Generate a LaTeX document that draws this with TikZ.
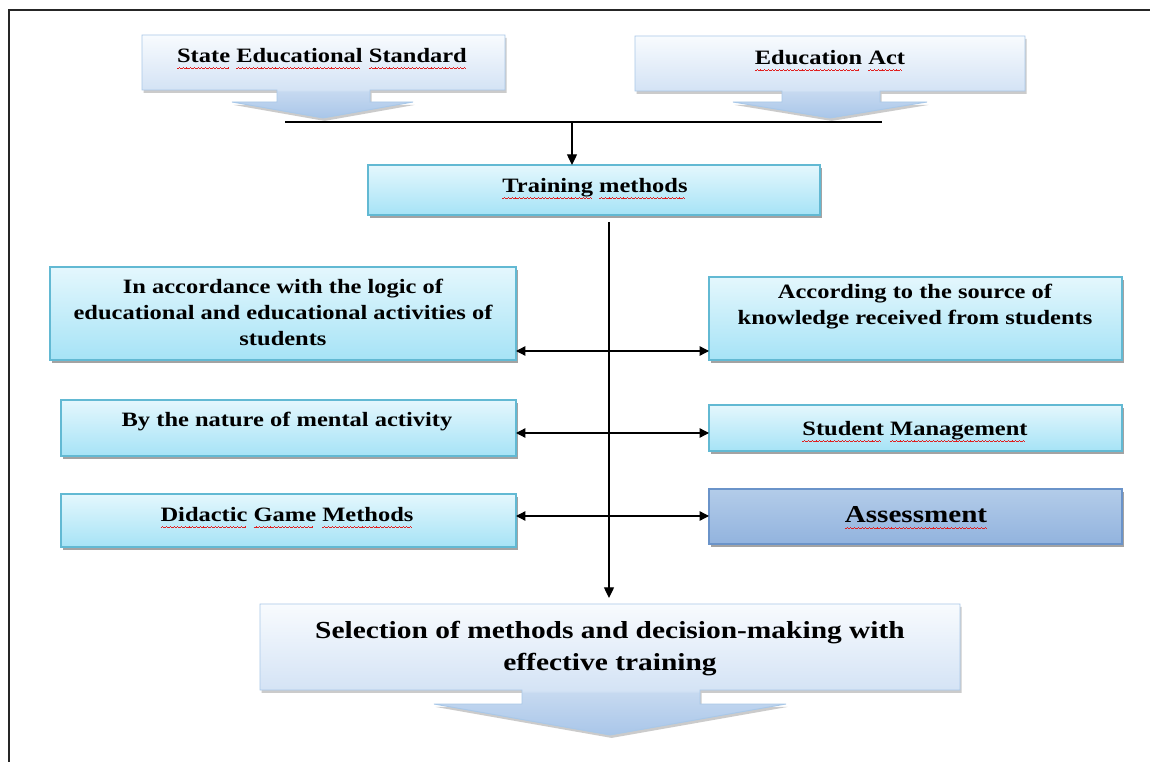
\documentclass[tikz,border=0pt]{standalone}
\usepackage{fontspec}
\setmainfont{Liberation Serif}[FakeStretch=1.2]
\usetikzlibrary{shadows,fit,arrows.meta,calc}
\definecolor{BoxTop}{HTML}{E4F7FD}
\definecolor{BoxBot}{HTML}{A6E3F6}
\definecolor{BoxLine}{HTML}{62B9D3}
\definecolor{AssTop}{HTML}{B3CCE9}
\definecolor{AssBot}{HTML}{92B3DE}
\definecolor{AssLine}{HTML}{6A93C9}
\definecolor{ShadowGray}{HTML}{8C8C8C}
\definecolor{ArrLine}{HTML}{A9C8E8}
\definecolor{ArrTip}{HTML}{A9C6E9}
\definecolor{ArrMid}{HTML}{C6D9F0}
\definecolor{BoxLow}{HTML}{D4E3F5}
\definecolor{BoxHigh}{HTML}{F8FBFE}
\definecolor{WaveRed}{HTML}{E02020}
\pgfdeclareverticalshading{blockarrow}{100bp}{color(0bp)=(ArrTip); color(25bp)=(ArrTip); color(41bp)=(ArrMid); color(42bp)=(BoxLow); color(75bp)=(BoxHigh); color(100bp)=(BoxHigh)}
\newsavebox\sqbox
\newcommand\sq[1]{\sbox\sqbox{#1}\rlap{\color{WaveRed}\leaders\hbox{\rule[-4.6pt]{0.7pt}{0.55pt}\rule[-4.0pt]{0.7pt}{0.55pt}\rule[-3.4pt]{0.7pt}{0.55pt}\rule[-4.0pt]{0.7pt}{0.55pt}}\hskip\wd\sqbox}\usebox\sqbox}
\begin{document}
\begin{tikzpicture}[x=0.75pt,y=-0.75pt,
  every node/.style={inner sep=0pt, outer sep=0pt},
  box/.style={draw=BoxLine, line width=0.8pt, top color=BoxTop, bottom color=BoxBot,
    drop shadow={shadow xshift=1.2pt, shadow yshift=-2.2pt, fill=ShadowGray, opacity=0.8}},
  abox/.style={box, draw=AssLine, top color=AssTop, bottom color=AssBot},
  barrow/.style={draw=ArrLine, line width=0.7pt, shade, shading=blockarrow,
    drop shadow={shadow xshift=1.2pt, shadow yshift=-2.2pt, fill=ShadowGray, opacity=0.45}},
  txt/.style={font=\bfseries\fontsize{15.3pt}{19.5pt}\selectfont, align=center, text=black},
  bigtxt/.style={align=center, text=black, font=\bfseries\fontsize{18.4pt}{24pt}\selectfont},
  conn/.style={draw=black, line width=1pt},
  downarr/.style={conn, -{Triangle[length=8pt,width=7.5pt]}},
  dbl/.style={conn, {Triangle[length=7pt,width=7pt]}-{Triangle[length=7pt,width=7pt]}},
  pageframe/.style={draw=black!85, line width=1.5pt}]
\useasboundingbox (0,0) rectangle (1150,762);
\fill[white] (0,0) rectangle (1150,762);
\draw[pageframe] (9,762) -- (9,10) -- (1150,10);

% top block arrows
\path[barrow] (142,35) -- (505,35) -- (505,90) -- (370,90) -- (370,102) -- (413,102) -- (323,118) -- (232,102) -- (277,102) -- (277,90) -- (142,90) -- cycle;
\node[txt, anchor=base] (ses) at (322,63) {\sq{State} \sq{Educational} \sq{Standard}};
\path[barrow] (635,36) -- (1025,36) -- (1025,91) -- (880,91) -- (880,102) -- (927,102) -- (830,118) -- (733,102) -- (782,102) -- (782,91) -- (635,91) -- cycle;
\node[txt, anchor=base] (ea) at (830,65) {\sq{Education} \sq{Act}};

% Training methods
\node[box, fit={(368,165) (820,215)}] (tm) {};
\node[txt, anchor=base] (tmt) at (595,193) {\sq{Training} \sq{methods}};

% left boxes
\node[box, fit={(50,267) (516,360)}] (l1) {};
\node[txt, anchor=north] (l1t) at (283,279) {In accordance with the logic of\\educational and educational activities of\\students};
\node[box, fit={(61,400) (516,456)}] (l2) {};
\node[txt, anchor=base] (l2t) at (287,427) {By the nature of mental activity};
\node[box, fit={(61,494) (516,547)}] (l3) {};
\node[txt, anchor=base] (l3t) at (287,522) {\sq{Didactic} \sq{Game} \sq{Methods}};

% right boxes
\node[box, fit={(709,277) (1122,360)}] (r1) {};
\node[txt, anchor=north] (r1t) at (915,284) {According to the source of\\knowledge received from students};
\node[box, fit={(709,405) (1122,451)}] (r2) {};
\node[txt, anchor=base] (r2t) at (915,436) {\sq{Student} \sq{Management}};
\node[abox, fit={(709,489) (1122,544)}] (r3) {};
\node[bigtxt, anchor=base, font=\bfseries\fontsize{18.2pt}{24pt}\selectfont] (r3t) at (916,523) {\sq{Assessment}};

% bottom block arrow
\path[barrow] (260,604) -- (960,604) -- (960,690) -- (700,690) -- (700,704) -- (786,704) -- (610,735) -- (434,704) -- (522,704) -- (522,690) -- (260,690) -- cycle;
\node[fit={(260,604) (960,690)}] (sel) {};
\node[bigtxt, anchor=north] (selt) at (610,621) {Selection of methods and decision-making with\\effective training};

% connectors
\coordinate (jl) at (285,122);
\coordinate (jr) at (882,122);
\coordinate (jd) at (572,122);
\coordinate (vs) at (609,222);
\draw[conn] (jl) -- (jr);
\draw[downarr] (jd) -- (jd |- tm.north);
\draw[downarr, shorten >=4.5pt] (vs) -- (vs |- sel.north);
\draw[dbl] (l1.east |- 0,351) -- (r1.west |- 0,351);
\draw[dbl] (l2.east |- 0,433) -- (r2.west |- 0,433);
\draw[dbl] (l3.east |- 0,516) -- (r3.west |- 0,516);
\end{tikzpicture}
\end{document}
